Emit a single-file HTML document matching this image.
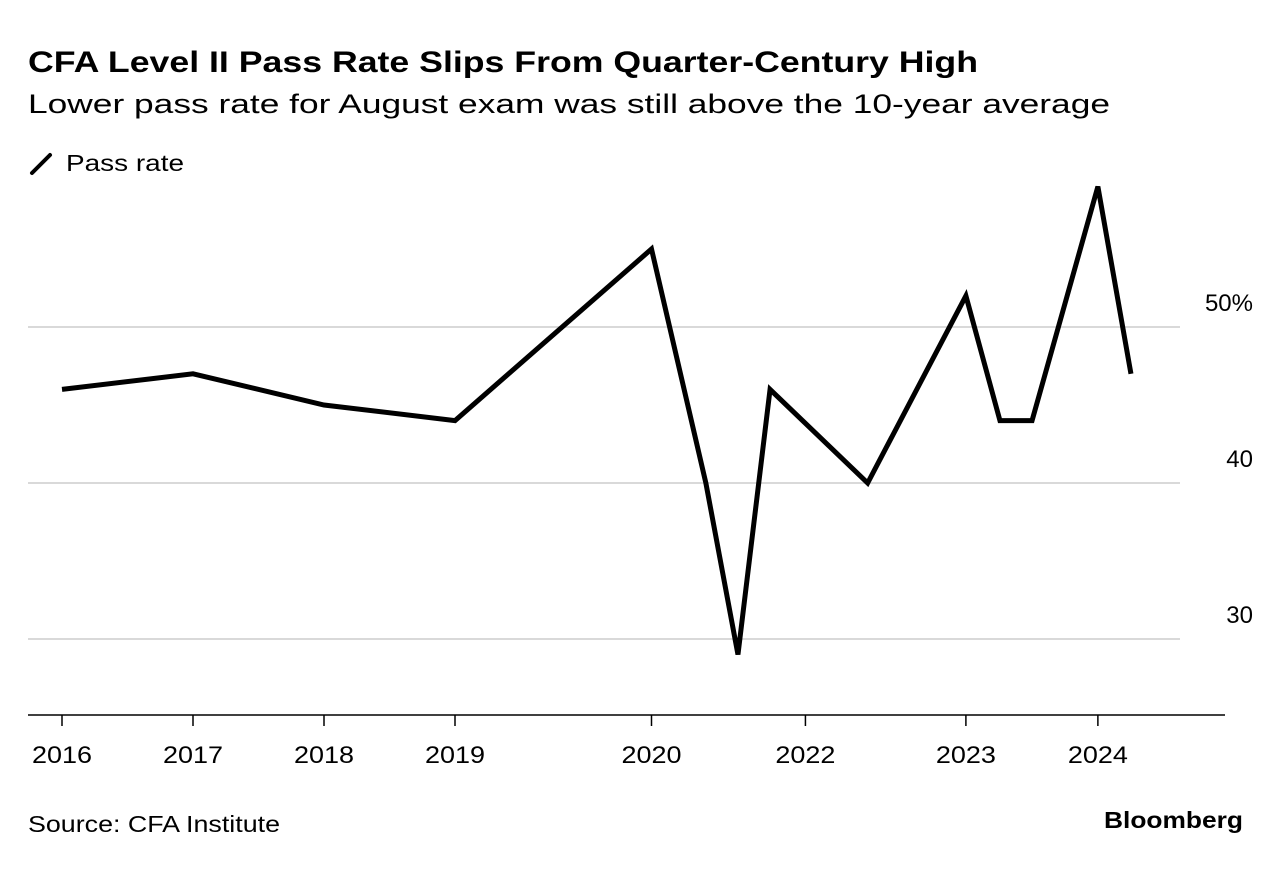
<!DOCTYPE html>
<html><head><meta charset="utf-8">
<style>
body{margin:0;background:#fff;width:1281px;height:864px;overflow:hidden;font-family:"Liberation Sans",sans-serif;color:#000}
</style></head>
<body>
<svg width="1281" height="864" xmlns="http://www.w3.org/2000/svg">
<text x="28" y="72" font-size="30" font-weight="bold" textLength="950" lengthAdjust="spacingAndGlyphs" font-family="Liberation Sans, sans-serif">CFA Level II Pass Rate Slips From Quarter-Century High</text>
<text x="28" y="113" font-size="27" textLength="1082" lengthAdjust="spacingAndGlyphs" font-family="Liberation Sans, sans-serif">Lower pass rate for August exam was still above the 10-year average</text>
<line x1="32" y1="173" x2="50" y2="155" stroke="#000" stroke-width="4" stroke-linecap="round"/>
<text x="66" y="171" font-size="23" textLength="118" lengthAdjust="spacingAndGlyphs">Pass rate</text>
<g id="grid"></g>
<g id="xaxis"></g>
<path id="line" fill="none" stroke="#000" stroke-width="5" stroke-linejoin="miter"/>
<text x="28" y="832" font-size="23" textLength="252" lengthAdjust="spacingAndGlyphs">Source: CFA Institute</text>
<text x="1104" y="828" font-size="23" font-weight="bold" textLength="139" lengthAdjust="spacingAndGlyphs">Bloomberg</text>
</svg>
<script>
const xPos = [0,4,8,12,18,19.66,20.64,21.62,24.6,27.6,28.64,29.62,31.63,32.64];
const passRates = [46,47,45,44,55,40,29,46,40,52,44,44,59,47];
const tickLabels = ["2016","2017","2018","2019","2020","2022","2023","2024"];
const tickPos = [0,4,8,12,18,22.7,27.6,31.63];
const yTicks = [30,40,50];
const yTickLabels = ["30","40","50%"];

const ns="http://www.w3.org/2000/svg";
const xs=t=>62+t*32.75;
const ys=v=>327-(v-50)*15.6;
const grid=document.getElementById('grid');
yTicks.forEach((v,i)=>{
  const l=document.createElementNS(ns,'line');
  l.setAttribute('x1',28);l.setAttribute('x2',1180);l.setAttribute('y1',ys(v));l.setAttribute('y2',ys(v));
  l.setAttribute('stroke','#d9d9d9');l.setAttribute('stroke-width',2);
  
  
  grid.appendChild(l);
  const t=document.createElementNS(ns,'text');
  t.setAttribute('x',1253);t.setAttribute('y',ys(v)-16);t.setAttribute('text-anchor','end');t.setAttribute('font-size','24');
  t.textContent=yTickLabels[i];
  
  
  grid.appendChild(t);
});
const xa=document.getElementById('xaxis');
const base=document.createElementNS(ns,'line');
base.setAttribute('x1',28);base.setAttribute('x2',1225);base.setAttribute('y1',715);base.setAttribute('y2',715);
base.setAttribute('stroke','#000');base.setAttribute('stroke-width',1.5);


xa.appendChild(base);
tickPos.forEach((p,i)=>{
  const l=document.createElementNS(ns,'line');
  l.setAttribute('x1',xs(p));l.setAttribute('x2',xs(p));l.setAttribute('y1',715);l.setAttribute('y2',726);
  l.setAttribute('stroke','#000');l.setAttribute('stroke-width',1.5);
  
  
  xa.appendChild(l);
  const t=document.createElementNS(ns,'text');
  t.setAttribute('x',xs(p));t.setAttribute('y',763);t.setAttribute('text-anchor','middle');t.setAttribute('font-size','24');
  t.setAttribute('textLength','60');t.setAttribute('lengthAdjust','spacingAndGlyphs');
  t.textContent=tickLabels[i];
  
  
  xa.appendChild(t);
});
document.getElementById('line').setAttribute('d',passRates.map((v,i)=>(i?'L':'M')+xs(xPos[i])+' '+ys(v)).join(' '));
</script>
</body></html>
